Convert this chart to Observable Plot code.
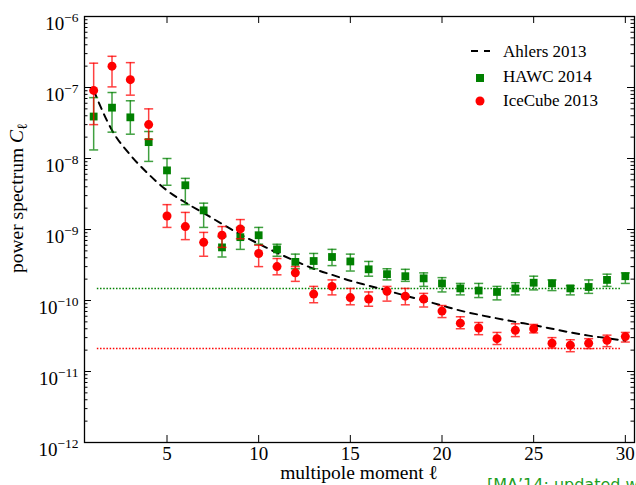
<!DOCTYPE html>
<html><head><meta charset="utf-8">
<script src="https://cdn.jsdelivr.net/npm/d3@7"></script>
<script src="https://cdn.jsdelivr.net/npm/@observablehq/plot@0.6"></script>
<style>
html,body{margin:0;padding:0;background:#fff;overflow:hidden}
#chart{position:relative;width:636px;height:485px;overflow:hidden}
</style></head><body><div id="chart"></div>
<script>
// ---- data ----
const ell = [1,2,3,4,5,6,7,8,9,10,11,12,13,14,15,16,17,18,19,20,21,22,23,24,25,26,27,28,29,30];

const iceCube   = [9.1e-8,2.0e-7,1.29e-7,3.0e-8,1.55e-9,1.1e-9,6.6e-10,8.3e-10,1.02e-9,4.6e-10,3.0e-10,2.45e-10,1.23e-10,1.58e-10,1.1e-10,1.05e-10,1.35e-10,1.15e-10,1.05e-10,7.1e-11,4.8e-11,4.1e-11,2.9e-11,3.8e-11,4.0e-11,2.5e-11,2.35e-11,2.5e-11,2.75e-11,3.1e-11];
const iceCubeLo = [3.0e-8,1.02e-7,7.8e-8,1.86e-8,1.07e-9,7.2e-10,4.2e-10,5.6e-10,7.4e-10,3.0e-10,2.3e-10,1.86e-10,9.3e-11,1.2e-10,8.7e-11,8.3e-11,9.8e-11,8.7e-11,8.1e-11,5.75e-11,4.0e-11,3.3e-11,2.4e-11,3.1e-11,3.5e-11,2.14e-11,1.9e-11,2.1e-11,2.24e-11,2.6e-11];
const iceCubeHi = [2.2e-7,2.75e-7,2.24e-7,5.0e-8,2.24e-9,1.74e-9,9.1e-10,1.1e-9,1.38e-9,6.0e-10,3.9e-10,3.0e-10,1.58e-10,1.95e-10,1.48e-10,1.32e-10,1.58e-10,1.48e-10,1.26e-10,8.5e-11,5.9e-11,4.9e-11,3.55e-11,4.7e-11,4.6e-11,3.0e-11,2.8e-11,2.9e-11,3.25e-11,3.55e-11];

const hawc   = [3.9e-8,5.2e-8,3.8e-8,1.7e-8,6.8e-9,4.2e-9,1.86e-9,5.6e-10,7.8e-10,8.3e-10,5.25e-10,3.5e-10,3.6e-10,4.1e-10,3.55e-10,2.75e-10,2.35e-10,2.2e-10,2.05e-10,1.74e-10,1.48e-10,1.38e-10,1.32e-10,1.48e-10,1.78e-10,1.74e-10,1.48e-10,1.55e-10,1.95e-10,2.2e-10];
const hawcLo = [1.32e-8,2.35e-8,2.2e-8,9.1e-9,4.2e-9,2.24e-9,1.07e-9,4.1e-10,5.25e-10,6.2e-10,4.2e-10,2.8e-10,2.8e-10,3.1e-10,2.6e-10,2.2e-10,1.95e-10,1.86e-10,1.58e-10,1.32e-10,1.2e-10,1.1e-10,1.02e-10,1.2e-10,1.41e-10,1.38e-10,1.2e-10,1.26e-10,1.58e-10,1.74e-10];
const hawcHi = [7.2e-8,8.5e-8,6.5e-8,2.4e-8,1.0e-8,5.25e-9,2.35e-9,7.9e-10,1.07e-9,1.07e-9,6.2e-10,4.5e-10,4.6e-10,5.25e-10,4.5e-10,3.55e-10,2.8e-10,2.75e-10,2.45e-10,2.1e-10,1.74e-10,1.74e-10,1.58e-10,1.78e-10,2.2e-10,1.95e-10,1.62e-10,1.95e-10,2.35e-10,2.45e-10];

const ahlers = [9.1e-8,2.5e-8,1.12e-8,6.0e-9,3.55e-9,2.4e-9,1.7e-9,1.2e-9,8.5e-10,6.3e-10,4.7e-10,3.6e-10,2.8e-10,2.3e-10,1.9e-10,1.62e-10,1.38e-10,1.17e-10,1.0e-10,8.5e-11,7.2e-11,6.3e-11,5.6e-11,5.0e-11,4.5e-11,4.0e-11,3.55e-11,3.2e-11,2.95e-11,2.7e-11];

const hawcLevel = 1.48e-10;
const iceCubeLevel = 2.1e-11;
const levelSpan = [1.2, 29.8];

const xTicks = [5,10,15,20,25,30];
const yTicks = [1e-12,1e-11,1e-10,1e-9,1e-8,1e-7,1e-6];
const seriesNames = ["Ahlers 2013","HAWC 2014","IceCube 2013"];
const xLabel = "multipole moment ℓ";
const yLabel = "power spectrum ";
const caption = "[MA\u201914: updated with";

// ---- layout ----
const W = 636, H = 485, mL = 84, mR = 2, mT = 16, mB = 43;
const fw = W - mL - mR, fh = H - mT - mB;
const RED = "#ff0000", GREEN = "#008000";

const minorY = [];
for (let k = -12; k < -6; k++) for (let m = 2; m <= 9; m++) minorY.push(m * Math.pow(10, k));

const idx = ell.map((_, i) => i);
const capSymbol = {draw(ctx, size) { const r = Math.sqrt(size / Math.PI); ctx.moveTo(-r, 0); ctx.lineTo(r, 0); }};

function errorMarks(lo, hi, color) {
  return [
    Plot.ruleX(idx, {x: i => ell[i], y1: i => lo[i], y2: i => hi[i], stroke: color, strokeWidth: 1.5, strokeOpacity: 0.75}),
    Plot.dot(idx, {x: i => ell[i], y: i => hi[i], symbol: capSymbol, r: 4.5, stroke: color, fill: "none", strokeWidth: 1.5, strokeOpacity: 0.75}),
    Plot.dot(idx, {x: i => ell[i], y: i => lo[i], symbol: capSymbol, r: 4.5, stroke: color, fill: "none", strokeWidth: 1.5, strokeOpacity: 0.75})
  ];
}

const expFmt = d => String(Math.round(Math.log10(d))).replace("-", "\u2212");

const svg = Plot.plot({
  width: W, height: H, marginLeft: mL, marginRight: mR, marginTop: mT, marginBottom: mB,
  style: {fontFamily: "'Liberation Serif','Times New Roman',serif", fontSize: "19px", background: "white", color: "black"},
  x: {domain: [0.5, 30.5]},
  y: {type: "log", domain: [1e-12, 1e-6]},
  marks: [
    Plot.ruleY([hawcLevel], {x1: levelSpan[0], x2: levelSpan[1], stroke: GREEN, strokeWidth: 1.5, strokeDasharray: "1.5,1.7"}),
    Plot.ruleY([iceCubeLevel], {x1: levelSpan[0], x2: levelSpan[1], stroke: RED, strokeWidth: 1.5, strokeDasharray: "1.5,1.7"}),
    Plot.line(idx, {x: i => ell[i], y: i => ahlers[i], stroke: "black", strokeWidth: 2, strokeDasharray: "7,6", curve: "monotone-x"}),
    ...errorMarks(hawcLo, hawcHi, GREEN),
    Plot.dot(idx, {x: i => ell[i], y: i => hawc[i], symbol: "square", r: 4.4, fill: GREEN}),
    ...errorMarks(iceCubeLo, iceCubeHi, RED),
    Plot.dot(idx, {x: i => ell[i], y: i => iceCube[i], r: 4.5, fill: RED}),
    // ticks (inward)
    Plot.tickY(yTicks, {y: d => d, insetRight: fw - 7, stroke: "black"}),
    Plot.tickY(yTicks, {y: d => d, insetLeft: fw - 7, stroke: "black"}),
    Plot.tickY(minorY, {y: d => d, insetRight: fw - 3.5, stroke: "black"}),
    Plot.tickY(minorY, {y: d => d, insetLeft: fw - 3.5, stroke: "black"}),
    Plot.tickX(xTicks, {x: d => d, insetBottom: fh - 7, stroke: "black"}),
    Plot.tickX(xTicks, {x: d => d, insetTop: fh - 7, stroke: "black"}),
    Plot.axisX({ticks: xTicks, tickSize: 0, tickPadding: 4, label: null, tickFormat: d => String(d)}),
    Plot.axisY({ticks: yTicks, tickSize: 0, tickPadding: 6, label: null, tickFormat: expFmt}),
    Plot.frame({stroke: "black", strokeWidth: 1.3})
  ]
});

const s = d3.select(svg);
// superscript exponents on y tick labels
s.selectAll('g[aria-label="y-axis tick label"] text').each(function() {
  const t = d3.select(this); const e = t.text(); t.text(null);
  t.attr("dy", "0.38em");
  t.append("tspan").text("10");
  t.append("tspan").attr("font-size", 13.5).attr("dy", "-0.55em").text(e);
});

// axis labels
s.append("text").attr("x", mL + fw / 2).attr("y", 479).attr("text-anchor", "middle").attr("font-size", 19.5).text(xLabel);
const yl = s.append("text").attr("transform", "translate(23,273) rotate(-90)").attr("text-anchor", "start").attr("font-size", 19.5);
yl.append("tspan").text(yLabel);
yl.append("tspan").attr("font-style", "italic").text("C");
yl.append("tspan").attr("font-size", 14).attr("dy", 4).text("ℓ");

// legend
const lg = s.append("g").attr("font-size", 17).attr("text-anchor", "start");
lg.append("line").attr("x1", 471).attr("x2", 490).attr("y1", 51).attr("y2", 51).attr("stroke", "black").attr("stroke-width", 2).attr("stroke-dasharray", "7,6");
lg.append("rect").attr("x", 476).attr("y", 74).attr("width", 8).attr("height", 8).attr("fill", GREEN);
lg.append("circle").attr("cx", 480).attr("cy", 101).attr("r", 4.5).attr("fill", RED);
seriesNames.forEach((n, i) => lg.append("text").attr("x", 503).attr("y", [57, 82, 106][i]).text(n));

// caption (cut off at the bottom-right, as in the reference)
s.append("text").attr("x", 487).attr("y", 490).attr("text-anchor", "start").attr("font-family", "'DejaVu Sans',sans-serif").attr("font-size", 16).attr("fill", "#1f9e1f").text(caption);

document.getElementById("chart").appendChild(svg);
</script></body></html>
